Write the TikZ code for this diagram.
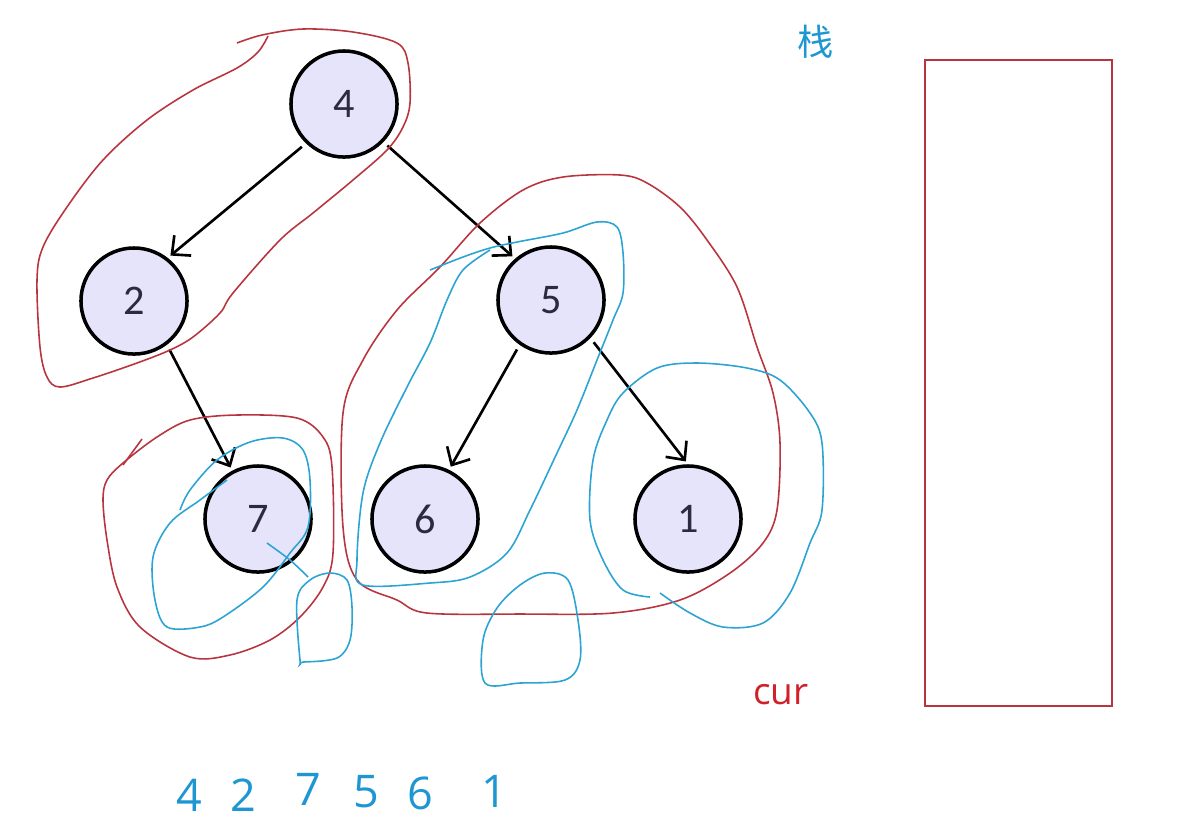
\documentclass[tikz,border=0pt]{standalone}
\usepackage{fontspec}
\newfontfamily\nodefont{Carlito}
\newfontfamily\inkfont{Open Sans}
\newfontfamily\cjk{Noto Sans CJK SC}
\usepackage{xcolor}
\usetikzlibrary{arrows.meta, positioning}

\definecolor{nodefill}{HTML}{E6E4FA}
\definecolor{digit}{HTML}{2A2A40}
\definecolor{redpen}{HTML}{B8353F}
\definecolor{bluepen}{HTML}{2BA3D3}
\definecolor{curred}{HTML}{D0202A}
\definecolor{bluetxt}{HTML}{1E96D2}

\begin{document}
\begin{tikzpicture}[
    x=0.01cm, y=-0.01cm,
    tnode/.style={circle, draw, line width=1pt, fill=nodefill,
                  minimum size=1.06cm, inner sep=0pt,
                  font=\nodefont\fontsize{12}{14}\selectfont, text=digit},
    arr/.style={-{Straight Barb[length=4pt, width=7.5pt]}, line width=0.75pt,
                shorten <=1.5pt, shorten >=1pt},
    redink/.style={redpen, line width=0.45pt, smooth, tension=0.55},
    blueink/.style={bluepen, line width=0.45pt, smooth, tension=0.55},
    seq/.style={font=\inkfont\fontsize{12.8}{15}\selectfont, text=bluetxt,
                inner sep=0pt}
]
\useasboundingbox (0,0) rectangle (1189,817);

% Tree nodes
\node[tnode] (n4) at (344,104) {4};
\node[tnode] (n2) at (134,301) {2};
\node[tnode] (n5) at (551,300) {5};
\node[tnode] (n7) at (258,519) {7};
\node[tnode] (n6) at (425,519) {6};
\node[tnode] (n1) at (688,519) {1};

% Edges
\draw[arr] (n4.226) -- (n2.52);
\draw[arr] (n4.316) -- (n5.131);
\draw[arr] (n2.307) -- (n7.118);
\draw[arr] (n5.235) -- (n6.64);
\draw[arr] (n5.316) -- (n1.90);

% Red pen loops
\draw[redink] plot coordinates {(237,43) (262,35) (303,29) (353,32) (397,43)
    (408,63) (410,103) (403,127) (387,150) (353,180) (313,213) (280,240)
    (233,293) (220,313) (193,337) (170,350) (137,363) (93,378) (60,387)
    (47,377) (40,347) (37,280) (43,247) (67,207) (103,160) (147,120)
    (193,90) (237,68) (258,52) (268,36)};
\draw[redink] plot[smooth cycle] coordinates {(343,413) (363,360) (397,310)
    (440,267) (480,223) (523,190) (563,177) (620,175) (647,183) (680,207)
    (707,240) (737,287) (757,347) (773,393) (780,443) (777,510) (763,543)
    (730,573) (680,600) (613,613) (520,614) (427,613) (397,600) (357,580)
    (343,527)};
\draw[redink] (142,439) -- (123,465);
\draw[redink] plot[smooth cycle] coordinates {(107,480) (103,500) (107,540)
    (117,587) (140,627) (190,657) (230,655) (270,640) (300,617) (323,587)
    (333,553) (332,467) (323,437) (297,418) (237,415) (190,420) (157,437)
    (123,463)};

% Blue pen loops
\draw[blueink] plot coordinates {(180,510) (190,490) (217,460) (250,442)
    (283,438) (303,450) (310,480) (308,527) (290,553) (263,587) (223,617)
    (200,627) (167,627) (155,600) (153,557) (170,523) (200,500) (227,480)};
\draw[blueink] plot coordinates {(267,543) (290,560) (308,577)};
\draw[blueink] plot[smooth cycle] coordinates {(300,660) (297,600) (310,580)
    (330,573) (347,580) (352,607) (350,640) (337,658) (303,662)};
\draw[blueink] plot coordinates {(430,270) (463,257) (490,248) (517,242)
    (563,233) (597,222) (617,227) (623,253) (623,293) (613,320) (597,360)
    (577,410) (557,453) (530,510) (507,553) (470,577) (430,583) (363,585)
    (357,560) (363,493) (380,443) (407,387) (430,343) (447,300) (463,270)
    (490,250)};
\draw[blueink] plot coordinates {(650,597) (623,590) (603,560) (590,520)
    (593,460) (607,420) (623,393) (657,368) (697,363) (747,368) (780,380)
    (810,413) (822,443) (822,510) (810,543) (790,593) (763,623) (723,627)
    (690,613) (660,593)};
\draw[blueink] plot[smooth cycle] coordinates {(485,683) (483,640) (497,608)
    (520,585) (545,573) (568,580) (578,620) (580,660) (565,680) (520,683)};

% Stack
\node[draw=redpen, line width=0.45pt, minimum width=1.87cm,
      minimum height=6.46cm, inner sep=0pt] (stack) at (1018.5,383) {};
\node[font=\cjk\fontsize{10.3}{12}\selectfont, text=bluetxt] (stacklbl)
      at (816,42) {栈};

% Pointer label
\node[font=\inkfont\fontsize{10.5}{12}\selectfont, text=curred] (cur)
      at (781,695) {cur};

% Visit order
\node[seq] (o1) at (189,795) {4};
\node[seq] (o2) at (243,795) {2};
\node[seq] (o3) at (308,789) {7};
\node[seq] (o4) at (366,792) {5};
\node[seq] (o5) at (420,793) {6};
\node[seq] (o6) at (494,791) {1};

\end{tikzpicture}
\end{document}
